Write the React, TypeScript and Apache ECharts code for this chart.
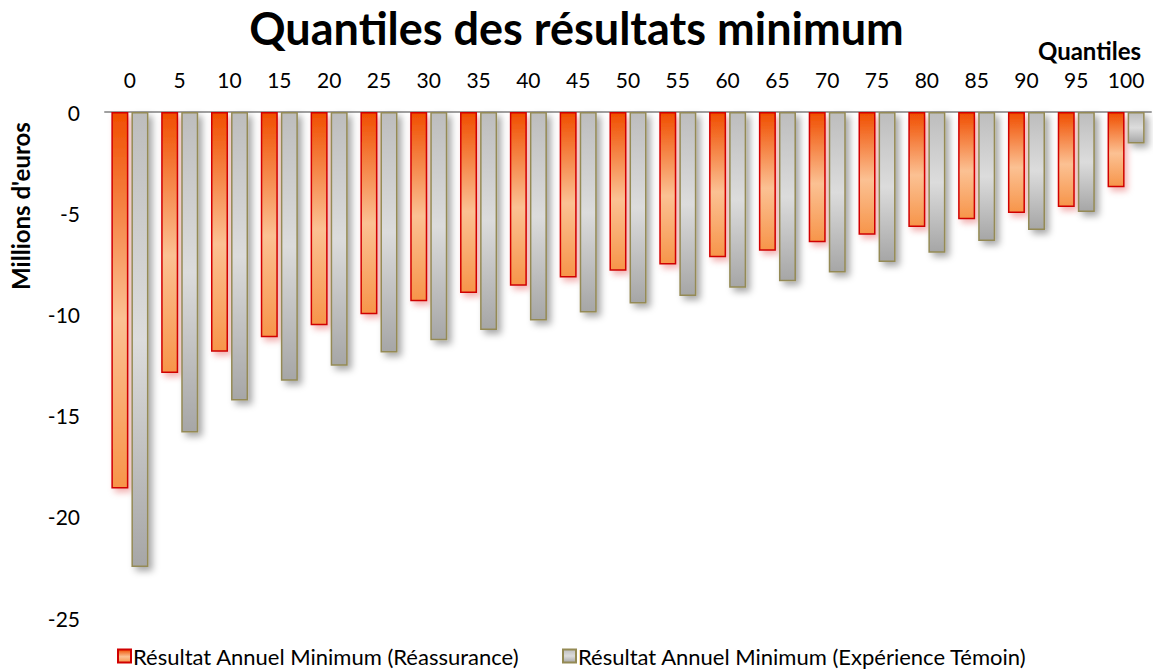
import React, { useEffect, useRef } from "react";
import * as echarts from "echarts";

const categories = ["0", "5", "10", "15", "20", "25", "30", "35", "40", "45", "50", "55", "60", "65", "70", "75", "80", "85", "90", "95", "100"];
const reassurance = [-18.6, -12.9, -11.85, -11.13, -10.53, -9.99, -9.35, -8.94, -8.58, -8.18, -7.84, -7.54, -7.18, -6.85, -6.44, -6.07, -5.68, -5.3, -4.99, -4.69, -3.72];
const temoin = [-22.48, -15.84, -14.26, -13.28, -12.54, -11.88, -11.28, -10.77, -10.3, -9.91, -9.46, -9.09, -8.68, -8.36, -7.93, -7.41, -6.95, -6.37, -5.83, -4.94, -1.56];
const seriesNames = ["Résultat Annuel Minimum (Réassurance)", "Résultat Annuel Minimum (Expérience Témoin)"];
const yMin = -25;
const yMax = 0;
const yInterval = 5;

const FONT = "Lato";

export default function App() {
  const ref = useRef<HTMLDivElement>(null);
  useEffect(() => {
    document.body.style.margin = "0";
    if (!ref.current) return;
    const chart = echarts.init(ref.current, undefined, { renderer: "svg" });
    const redGrad = new echarts.graphic.LinearGradient(0, 0, 0, 1, [
      { offset: 0, color: "#F04E00" },
      { offset: 0.55, color: "#FBC193" },
      { offset: 1, color: "#F7954A" },
    ]);
    const grayGrad = new echarts.graphic.LinearGradient(0, 0, 0, 1, [
      { offset: 0, color: "#BDBDBD" },
      { offset: 0.5, color: "#DCDCDC" },
      { offset: 1, color: "#A6A6A6" },
    ]);
    const legendCommon = {
      top: 645,
      padding: 0,
      itemWidth: 13,
      itemHeight: 13,
      icon: "rect",
      itemGap: 0,
      textStyle: { fontFamily: FONT, fontSize: 22, color: "#000", padding: [0, 0, 0, -3] },
    };
    chart.setOption({
      animation: false,
      title: {
        text: "Quantiles des résultats minimum",
        left: "center",
        top: 0,
        textStyle: { fontFamily: FONT, fontSize: 45, fontWeight: "bold", color: "#000" },
      },
      grid: { left: 105, right: 2, top: 112, bottom: 54 },
      legend: [
        { ...legendCommon, data: [seriesNames[0]], left: 117 },
        { ...legendCommon, data: [seriesNames[1]], left: 562 },
      ],
      xAxis: {
        type: "category",
        position: "top",
        data: categories,
        axisLine: { lineStyle: { color: "#A0A0A0", width: 2 } },
        axisTick: { show: false },
        axisLabel: { fontFamily: FONT, fontSize: 21, color: "#000", margin: 22 },
      },
      yAxis: {
        type: "value",
        min: yMin,
        max: yMax,
        interval: yInterval,
        splitLine: { show: false },
        axisLine: { show: false },
        axisTick: { show: false },
        axisLabel: { fontFamily: FONT, fontSize: 21, color: "#000", margin: 25 },
      },
      graphic: [
        {
          type: "text",
          x: 1141,
          y: 50,
          style: {
            text: "Quantiles",
            fontFamily: FONT,
            fontSize: 24,
            fontWeight: "bold",
            fill: "#000",
            align: "right",
            verticalAlign: "middle",
          },
        },
        {
          type: "text",
          x: 20,
          y: 206,
          rotation: Math.PI / 2,
          style: {
            text: "Millions d'euros",
            fontFamily: FONT,
            fontSize: 24,
            fontWeight: "bold",
            fill: "#000",
            align: "center",
            verticalAlign: "middle",
          },
        },
      ],
      series: [
        {
          name: seriesNames[0],
          type: "bar",
          data: reassurance,
          barWidth: 17,
          barGap: "18%",
          itemStyle: {
            color: redGrad,
            borderColor: "#D00000",
            borderWidth: 1.5,
            shadowColor: "rgba(210,0,0,0.3)",
            shadowBlur: 6,
            shadowOffsetX: 3,
            shadowOffsetY: 4,
          },
        },
        {
          name: seriesNames[1],
          type: "bar",
          data: temoin,
          barWidth: 17,
          itemStyle: {
            color: grayGrad,
            borderColor: "#948A54",
            borderWidth: 1.5,
            shadowColor: "rgba(0,0,0,0.35)",
            shadowBlur: 7,
            shadowOffsetX: 4,
            shadowOffsetY: 4,
          },
        },
      ],
    });
    return () => chart.dispose();
  }, []);
  return <div ref={ref} style={{ width: 1153, height: 672 }} />;
}
